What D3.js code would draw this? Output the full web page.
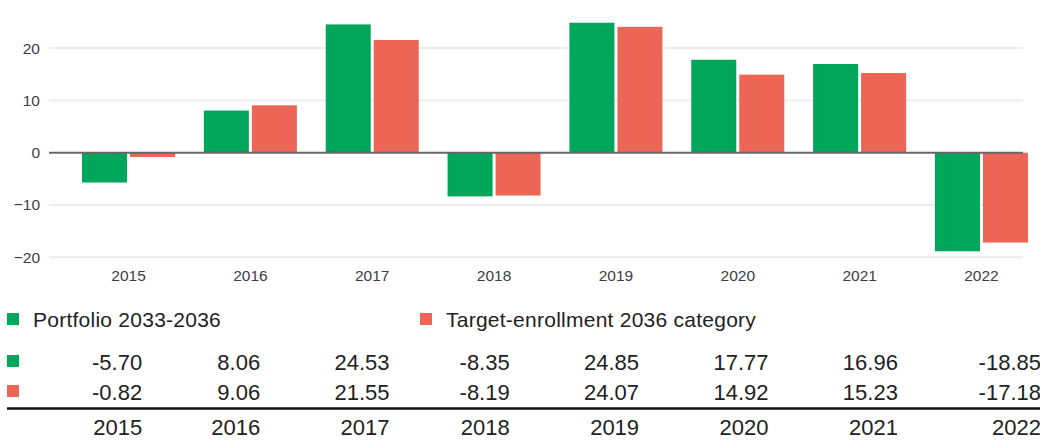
<!DOCTYPE html>
<html>
<head>
<meta charset="utf-8">
<script src="https://cdn.jsdelivr.net/npm/d3@7"></script>
<style>
  html, body { margin: 0; padding: 0; background: #fff; }
  svg { display: block; }
  text { font-family: "Liberation Sans", Arial, sans-serif; }
</style>
</head>
<body>
<svg id="chart" width="1040" height="440"></svg>
<script>
// Annual returns (%) per year
const years = ["2015", "2016", "2017", "2018", "2019", "2020", "2021", "2022"];
const seriesNames = ["Portfolio 2033-2036", "Target-enrollment 2036 category"];
const portfolio = [-5.70, 8.06, 24.53, -8.35, 24.85, 17.77, 16.96, -18.85];
const category = [-0.82, 9.06, 21.55, -8.19, 24.07, 14.92, 15.23, -17.18];
const yTicks = [-20, -10, 0, 10, 20];
const colors = ["#00A65A", "#EC6555"];

const seriesValues = [portfolio, category];

const svg = d3.select("#chart");

// Scales
const y = d3.scaleLinear().domain([-20, 20]).range([257.3, 48.1]);
const x0 = d3.scaleBand().domain(years).range([67.6, 1042.4]).padding(0);
const x1 = d3.scaleBand().domain(d3.range(seriesNames.length)).range([-46.5, 46.5]).paddingInner(0.0625);

const gridLeft = 49, gridRight = 1023;

// Horizontal gridlines
svg.append("g").selectAll("line")
  .data(yTicks.filter(t => t !== 0))
  .join("line")
  .attr("x1", gridLeft).attr("x2", gridRight)
  .attr("y1", d => y(d)).attr("y2", d => y(d))
  .attr("stroke", "#ededed").attr("stroke-width", 2);

// Y axis labels
const yAxis = d3.axisLeft(y).tickValues(yTicks).tickSize(0).tickPadding(0);
const gy = svg.append("g").attr("transform", "translate(40,0)").call(yAxis);
gy.select(".domain").remove();
gy.selectAll("text")
  .attr("font-family", "Liberation Sans, Arial, sans-serif")
  .attr("font-size", "15.5px").attr("fill", "#3d3d45");

// Bars
const groups = svg.append("g").selectAll("g")
  .data(years)
  .join("g")
  .attr("transform", d => `translate(${x0(d) + x0.bandwidth() / 2},0)`);

groups.selectAll("rect")
  .data((d, i) => seriesValues.map((vals, s) => ({ s, v: vals[i] })))
  .join("rect")
  .attr("x", d => x1(d.s))
  .attr("width", x1.bandwidth())
  .attr("y", d => y(Math.max(0, d.v)))
  .attr("height", d => Math.abs(y(d.v) - y(0)))
  .attr("fill", d => colors[d.s]);

// Zero line
svg.append("line")
  .attr("x1", gridLeft).attr("x2", gridRight)
  .attr("y1", y(0)).attr("y2", y(0))
  .attr("stroke", "#666").attr("stroke-width", 2);

// X axis labels
const xAxis = d3.axisBottom(x0).tickSize(0).tickPadding(0);
const gx = svg.append("g").attr("transform", "translate(0,270)").call(xAxis);
gx.select(".domain").remove();
gx.selectAll("text")
  .attr("font-family", "Liberation Sans, Arial, sans-serif")
  .attr("font-size", "15.5px").attr("fill", "#3d3d45");

// Legend
const legendX = [7, 420];
const legend = svg.append("g").selectAll("g")
  .data(seriesNames)
  .join("g")
  .attr("transform", (d, i) => `translate(${legendX[i]},0)`);
legend.append("rect").attr("x", 0).attr("y", 313).attr("width", 12).attr("height", 12)
  .attr("fill", (d, i) => colors[i]);
legend.append("text").attr("x", 26).attr("y", 326.5)
  .attr("font-size", "21px").attr("letter-spacing", "0.25px").attr("fill", "#222")
  .text(d => d);

// Data table: column widths follow the widest entry in each column
const table = svg.append("g");
const tableLeft = 7, tableRight = 1041, firstCol = 15, cellPad = 14;
const fmt2 = d3.format(".2f");
const fmt = v => fmt2(v).replace("\u2212", "-");
const cellFont = "22px";

const measure = table.append("text").attr("font-size", cellFont).attr("visibility", "hidden");
const colWidths = years.map((yr, i) => {
  const entries = [fmt(portfolio[i]), fmt(category[i]), yr];
  return d3.max(entries, s => { measure.text(s); return measure.node().getComputedTextLength(); }) + cellPad;
});
measure.remove();
const scaleK = (tableRight - tableLeft - firstCol) / d3.sum(colWidths);
const rightEdges = [];
let acc = tableLeft + firstCol;
colWidths.forEach(w => { acc += w * scaleK; rightEdges.push(acc); });

const rowBaselines = [370, 400];
seriesValues.forEach((vals, s) => {
  table.append("rect").attr("x", 7).attr("y", rowBaselines[s] - 15).attr("width", 12).attr("height", 12)
    .attr("fill", colors[s]);
  table.append("g").selectAll("text")
    .data(vals)
    .join("text")
    .attr("x", (d, i) => rightEdges[i])
    .attr("y", rowBaselines[s])
    .attr("text-anchor", "end")
    .attr("font-size", cellFont).attr("fill", "#222")
    .text(d => fmt(d));
});

table.append("line")
  .attr("x1", tableLeft).attr("x2", 1040)
  .attr("y1", 408.5).attr("y2", 408.5)
  .attr("stroke", "#111").attr("stroke-width", 2.5);

table.append("g").selectAll("text")
  .data(years)
  .join("text")
  .attr("x", (d, i) => rightEdges[i])
  .attr("y", 435)
  .attr("text-anchor", "end")
  .attr("font-size", cellFont).attr("fill", "#222")
  .text(d => d);
</script>
</body>
</html>
